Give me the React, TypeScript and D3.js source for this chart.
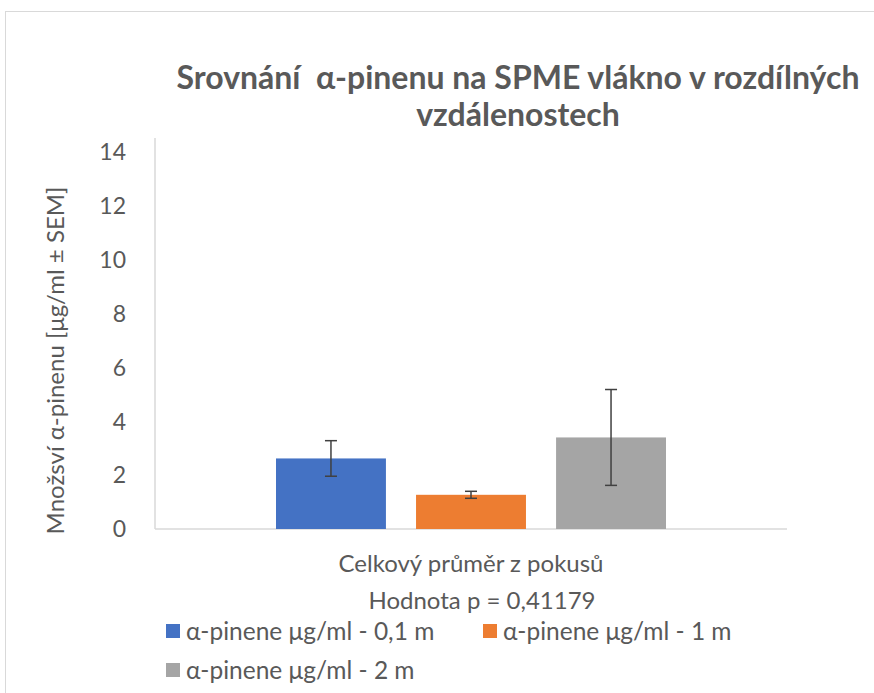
import React, { useEffect, useRef } from "react";
import * as d3 from "d3";

const seriesNames = [
  "α-pinene μg/ml - 0,1 m",
  "α-pinene μg/ml - 1 m",
  "α-pinene μg/ml - 2 m",
];
const meanValues = [2.62, 1.27, 3.4];
const semValues = [0.66, 0.13, 1.78];
const seriesColors = ["#4472C4", "#ED7D31", "#A5A5A5"];
const yTicks = [0, 2, 4, 6, 8, 10, 12, 14];
const category = "Celkový průměr z pokusů";

const W = 874;
const H = 693;
const textColor = "#595959";
const font = "Lato, 'Open Sans', sans-serif";

export default function App() {
  const ref = useRef<SVGSVGElement>(null);

  useEffect(() => {
    const svg = d3.select(ref.current);
    svg.selectAll("*").remove();

    // chart frame
    svg
      .append("rect")
      .attr("x", 5.5)
      .attr("y", 11.5)
      .attr("width", 890)
      .attr("height", 720)
      .attr("fill", "#fff")
      .attr("stroke", "#d9d9d9");

    const left = 155;
    const right = 787;
    const top = 152;
    const bottom = 529;

    const y = d3.scaleLinear().domain([0, 14]).range([bottom, top]);
    const x0 = d3.scaleBand().domain([category]).range([left, right]);
    const x1 = d3
      .scaleBand()
      .domain(seriesNames)
      .range([x0(category)! + 121, x0(category)! + x0.bandwidth() - 121])
      .paddingInner(0.215);

    // title
    const title = svg
      .append("text")
      .attr("text-anchor", "middle")
      .attr("font-family", font)
      .attr("font-weight", "bold")
      .attr("font-size", 32)
      .attr("fill", textColor)
      .style("white-space", "pre");
    title.append("tspan").attr("x", 518).attr("y", 89).text("Srovnání  α-pinenu na SPME vlákno v rozdílných");
    title.append("tspan").attr("x", 518).attr("y", 126).text("vzdálenostech");

    // y axis labels
    svg
      .append("g")
      .selectAll("text")
      .data(yTicks)
      .enter()
      .append("text")
      .attr("x", 126)
      .attr("y", (d) => y(d))
      .attr("dy", "0.36em")
      .attr("text-anchor", "end")
      .attr("font-family", font)
      .attr("font-size", 23)
      .attr("fill", textColor)
      .text((d) => d);

    // axis lines
    svg
      .append("line")
      .attr("x1", left)
      .attr("x2", left)
      .attr("y1", y(14) - 14)
      .attr("y2", bottom)
      .attr("stroke", "#d9d9d9")
      .attr("stroke-width", 1.5);
    svg
      .append("line")
      .attr("x1", left)
      .attr("x2", right)
      .attr("y1", bottom)
      .attr("y2", bottom)
      .attr("stroke", "#d9d9d9")
      .attr("stroke-width", 1.5);

    // bars
    svg
      .append("g")
      .selectAll("rect")
      .data(meanValues)
      .enter()
      .append("rect")
      .attr("x", (d, i) => x1(seriesNames[i])!)
      .attr("y", (d) => y(d))
      .attr("width", x1.bandwidth())
      .attr("height", (d) => bottom - y(d))
      .attr("fill", (d, i) => seriesColors[i]);

    // error bars
    const err = svg.append("g").attr("stroke", "#404040").attr("stroke-width", 1.5);
    meanValues.forEach((m, i) => {
      const cx = x1(seriesNames[i])! + x1.bandwidth() / 2;
      const hi = y(m + semValues[i]);
      const lo = y(m - semValues[i]);
      err.append("line").attr("x1", cx).attr("x2", cx).attr("y1", hi).attr("y2", lo);
      err.append("line").attr("x1", cx - 6).attr("x2", cx + 6).attr("y1", hi).attr("y2", hi);
      err.append("line").attr("x1", cx - 6).attr("x2", cx + 6).attr("y1", lo).attr("y2", lo);
    });

    // y axis title
    svg
      .append("text")
      .attr("transform", `translate(64,${(top + bottom) / 2 + 20}) rotate(-90)`)
      .attr("text-anchor", "middle")
      .attr("font-family", font)
      .attr("font-size", 24)
      .attr("fill", textColor)
      .text("Množsví α-pinenu [μg/ml ± SEM]");

    // category + p value
    svg
      .append("text")
      .attr("x", x0(category)! + x0.bandwidth() / 2)
      .attr("y", 572)
      .attr("text-anchor", "middle")
      .attr("font-family", font)
      .attr("font-size", 24)
      .attr("fill", textColor)
      .text(category);
    svg
      .append("text")
      .attr("x", 482)
      .attr("y", 609)
      .attr("text-anchor", "middle")
      .attr("font-family", font)
      .attr("font-size", 24)
      .attr("fill", textColor)
      .text("Hodnota p = 0,41179");

    // legend
    const legendPos = [
      [166, 631],
      [483, 631],
      [166, 670],
    ];
    const legend = svg
      .append("g")
      .selectAll("g")
      .data(seriesNames)
      .enter()
      .append("g")
      .attr("transform", (d, i) => `translate(${legendPos[i][0]},${legendPos[i][1]})`);
    legend
      .append("rect")
      .attr("x", 0)
      .attr("y", -7)
      .attr("width", 14)
      .attr("height", 14)
      .attr("fill", (d, i) => seriesColors[i]);
    legend
      .append("text")
      .attr("x", 20)
      .attr("y", 0)
      .attr("dy", "0.36em")
      .attr("font-family", font)
      .attr("font-size", 24.5)
      .attr("fill", textColor)
      .text((d) => d);
  }, []);

  return (
    <svg
      ref={ref}
      width={W}
      height={H}
      style={{ position: "absolute", left: 0, top: 0, display: "block", background: "#fff" }}
    />
  );
}
